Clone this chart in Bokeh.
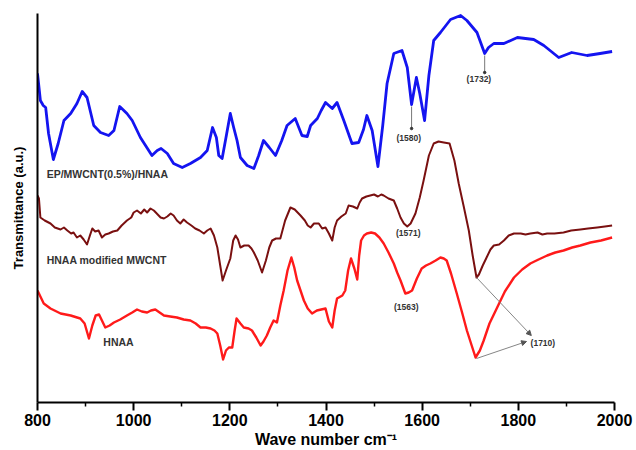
from bokeh.plotting import figure
from bokeh.models import Range1d, FixedTicker, Label, Arrow, NormalHead
from bokeh.embed import file_html
from bokeh.resources import INLINE

# ---------------- data (wavenumber cm-1, transmittance a.u.) ----------------
x_ticks = [800, 1000, 1200, 1400, 1600, 1800, 2000]
x_minor = [900, 1100, 1300, 1500, 1700, 1900]

blue_wn = [800, 806, 812, 817, 823, 833, 843, 855, 869, 882, 893, 903, 917, 931, 948, 959, 971, 986,
           997, 1014, 1038, 1049, 1057, 1070, 1083, 1101, 1118, 1139, 1153, 1164, 1172, 1177, 1184,
           1192, 1201, 1208, 1215, 1222, 1236, 1250, 1260, 1270, 1282, 1295, 1308, 1319, 1336, 1350,
           1361, 1368, 1382, 1390, 1399, 1413, 1423, 1437, 1454, 1468, 1478, 1485, 1496, 1508, 1518,
           1527, 1541, 1558, 1569, 1578, 1588, 1595, 1605, 1614, 1624, 1638, 1659, 1680, 1693, 1714,
           1730, 1738, 1749, 1770, 1798, 1832, 1853, 1884, 1911, 1943, 1970, 1995]
blue_t = [332, 305, 300, 298, 272, 246, 262, 285, 292, 302, 314, 308, 280, 273, 270, 275, 299, 292,
          285, 268, 250, 255, 257, 252, 242, 238, 242, 248, 255, 278, 268, 250, 247,
          268, 292, 278, 265, 248, 240, 237, 250, 265, 258, 250, 265, 280, 287, 270,
          269, 280, 287, 295, 303, 297, 303, 285, 262, 263, 276, 290, 275, 239, 280,
          322, 352, 355, 338, 301, 328, 312, 285, 330, 365, 373, 386, 390, 385, 373,
          352, 358, 362, 362, 368, 366, 360, 348, 353, 350, 352, 354]

brown_wn = [800, 803, 806, 815, 827, 836, 848, 855, 862, 870, 875, 882, 889, 896, 903, 909, 914, 920,
            927, 934, 941, 948, 957, 966, 975, 986, 995, 1000, 1007, 1015, 1022, 1028, 1035, 1042,
            1050, 1056, 1063, 1070, 1077, 1083, 1090, 1097, 1104, 1111, 1120, 1128, 1137, 1146, 1153,
            1160, 1167, 1174, 1180, 1185, 1192, 1201, 1207, 1212, 1217, 1222, 1230, 1239, 1245, 1250,
            1258, 1267, 1275, 1282, 1288, 1296, 1305, 1315, 1326, 1335, 1347, 1356, 1362, 1368, 1375,
            1385, 1392, 1399, 1406, 1413, 1418, 1423, 1432, 1441, 1447, 1456, 1465, 1470, 1475, 1484,
            1492, 1500, 1508, 1515, 1520, 1530, 1541, 1548, 1555, 1562, 1569, 1576, 1586, 1595, 1603,
            1614, 1624, 1634, 1645, 1657, 1667, 1676, 1686, 1697, 1705, 1713, 1718, 1726, 1734, 1742,
            1749, 1760, 1770, 1780, 1791, 1805, 1815, 1825, 1840, 1850, 1860, 1875, 1894, 1910, 1929,
            1945, 1964, 1980, 1995]
brown_t = [210, 207, 188, 185, 182, 178, 176, 178, 175, 172, 173, 168, 170, 166, 161, 170, 177, 174,
           175, 168, 171, 172, 174, 175, 180, 185, 188, 193, 195, 192, 196, 193, 197, 195,
           191, 188, 187, 189, 192, 190, 185, 182, 186, 183, 180, 177, 175, 172, 175,
           177, 170, 158, 140, 125, 135, 147, 165, 170, 166, 158, 160, 160, 157, 153,
           145, 133, 145, 158, 165, 167, 167, 185, 198, 196, 190, 185, 180, 178, 182,
           182, 177, 178, 172, 165, 178, 185, 189, 192, 200, 199, 197, 203, 207, 209,
           210, 211, 209, 211, 210, 207, 205, 197, 188, 182, 179, 182, 192, 208, 225,
           250, 262, 264, 263, 262, 245, 222, 200, 175, 150, 128, 131, 140, 148, 156,
           160, 161, 165, 170, 172, 172, 171, 172, 173, 171, 172, 172, 173, 175, 176,
           177, 178, 179, 180]

red_wn = [800, 803, 813, 827, 848, 869, 889, 898, 907, 914, 921, 928, 935, 941, 950, 959, 972, 986,
          997, 1007, 1017, 1028, 1036, 1045, 1054, 1063, 1076, 1090, 1104, 1118, 1129, 1139, 1150,
          1160, 1168, 1174, 1180, 1186, 1192, 1198, 1205, 1210, 1214, 1222, 1229, 1239, 1246, 1255,
          1264, 1270, 1277, 1284, 1291, 1298, 1305, 1312, 1320, 1328, 1334, 1340, 1347, 1354, 1362,
          1371, 1381, 1390, 1399, 1406, 1413, 1418, 1423, 1434, 1440, 1446, 1452, 1459, 1465, 1469,
          1473, 1479, 1485, 1494, 1502, 1511, 1520, 1530, 1541, 1548, 1555, 1565, 1572, 1579, 1589,
          1599, 1608, 1617, 1628, 1638, 1645, 1651, 1660, 1672, 1683, 1693, 1703, 1711, 1720, 1728,
          1740, 1756, 1772, 1791, 1808, 1825, 1842, 1860, 1877, 1894, 1912, 1929, 1950, 1972, 1995]
red_t = [115, 112, 102, 97, 92, 90, 87, 82, 67, 80, 90, 91, 84, 78, 80, 83, 86, 90,
         93, 96, 94, 93, 95, 96, 93, 90, 89, 88, 86, 85, 82, 78, 78,
         77, 75, 72, 60, 46, 55, 58, 58, 75, 87, 82, 78, 77, 75, 68,
         60, 64, 70, 78, 85, 83, 100, 115, 135, 148, 138, 125, 115, 105, 97,
         92, 95, 96, 97, 84, 78, 95, 107, 110, 115, 135, 147, 137, 126, 150,
         165, 170, 172, 173, 172, 168, 162, 153, 142, 133, 125, 112, 113, 115, 127,
         137, 140, 142, 145, 148, 147, 145, 132, 112, 93, 75, 60, 48, 55, 65,
         82, 98, 114, 128, 136, 142, 146, 150, 153, 155, 158, 160, 163, 165, 168]

series_names = ["EP/MWCNT(0.5%)/HNAA", "HNAA modified MWCNT", "HNAA"]

# ---------------- figure ----------------
FONT = "Liberation Sans"
p = figure(width=636, height=450, x_range=Range1d(800, 2000), y_range=Range1d(3, 392),
           output_backend="svg", toolbar_location=None,
           min_border_left=37, min_border_right=22, min_border_top=13, min_border_bottom=48)
p.outline_line_color = None
p.xgrid.visible = False
p.ygrid.visible = False
p.background_fill_color = "white"
p.border_fill_color = "white"

xa = p.xaxis[0]
xa.ticker = FixedTicker(ticks=x_ticks, minor_ticks=x_minor)
xa.axis_line_width = 2
xa.axis_line_color = "black"
xa.major_tick_line_width = 2
xa.minor_tick_line_width = 1.5
xa.major_tick_out = 8
xa.major_tick_in = 0
xa.minor_tick_out = 4
xa.minor_tick_in = 0
xa.major_label_text_font = FONT
xa.major_label_text_font_size = "16px"
xa.major_label_text_font_style = "bold"
xa.major_label_text_color = "black"
xa.major_label_standoff = 3
xa.axis_label = "Wave number cm\u207b\u00b9"
xa.axis_label_text_font = FONT
xa.axis_label_text_font_size = "16px"
xa.axis_label_text_font_style = "bold"
xa.axis_label_text_color = "black"
xa.axis_label_standoff = 2

ya = p.yaxis[0]
ya.ticker = FixedTicker(ticks=[])
ya.axis_line_width = 2
ya.axis_line_color = "black"
ya.major_tick_out = 0
ya.minor_tick_out = 0
ya.major_label_standoff = 0
ya.axis_label = "Transmittance (a.u.)"
ya.axis_label_text_font = FONT
ya.axis_label_text_font_size = "13px"
ya.axis_label_text_font_style = "bold"
ya.axis_label_text_color = "black"
ya.axis_label_standoff = 12

# curves
p.line(red_wn, red_t, line_color="#ff1a1a", line_width=2.4, line_join="round")
p.line(brown_wn, brown_t, line_color="#7a1010", line_width=2.0, line_join="round")
p.line(blue_wn, blue_t, line_color="#1414f0", line_width=2.8, line_join="round")

# series labels
lab_style = dict(text_font=FONT, text_font_size="10.5px", text_font_style="bold",
                 text_color="#333333", text_baseline="middle", text_align="left")
p.add_layout(Label(x=819, y=232, text=series_names[0], **lab_style))
p.add_layout(Label(x=819, y=146, text=series_names[1], **lab_style))
p.add_layout(Label(x=937, y=64, text=series_names[2], **lab_style))

# peak annotations
ann_style = dict(text_font=FONT, text_font_size="8.5px", text_font_style="bold",
                 text_color="#333333", text_baseline="middle", text_align="center")
p.add_layout(Label(x=1718, y=327, text="(1732)", **ann_style))
p.add_layout(Label(x=1572, y=268, text="(1580)", **ann_style))
p.add_layout(Label(x=1571, y=173, text="(1571)", **ann_style))
p.add_layout(Label(x=1567, y=99, text="(1563)", **ann_style))
p.add_layout(Label(x=1851, y=63, text="(1710)", **ann_style))

p.segment(x0=[1578, 1730], y0=[299, 350], x1=[1578, 1730], y1=[277, 333],
          line_color="#555555", line_width=0.8)
p.scatter(x=[1578, 1730], y=[277, 333], size=2.5, color="#333333")

p.add_layout(Arrow(end=NormalHead(size=5, fill_color="#555555", line_color="#555555"),
                   x_start=1713, y_start=128, x_end=1827, y_end=70,
                   line_color="#777777", line_width=0.9))
p.add_layout(Arrow(end=NormalHead(size=5, fill_color="#555555", line_color="#555555"),
                   x_start=1713, y_start=47, x_end=1817, y_end=64,
                   line_color="#777777", line_width=0.9))

open("out.html", "w").write(file_html(p, INLINE))
